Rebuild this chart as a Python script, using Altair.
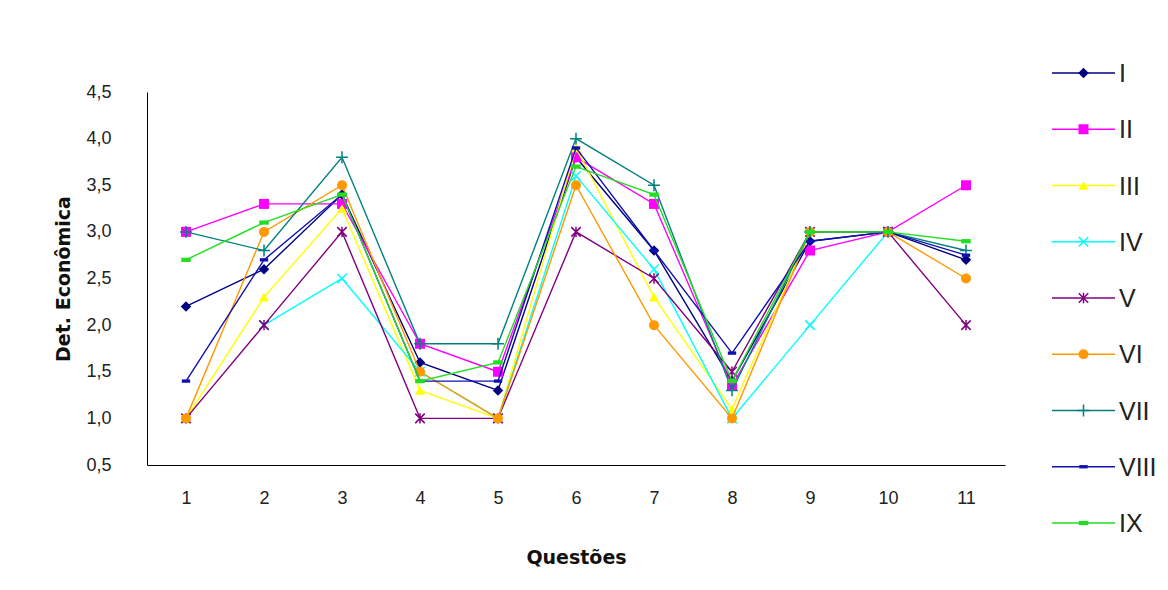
import altair as alt
import pandas as pd

questions = ["1", "2", "3", "4", "5", "6", "7", "8", "9", "10", "11"]
series_names = ["I", "II", "III", "IV", "V", "VI", "VII", "VIII", "IX"]

s_I    = [2.2, 2.6, 3.4, 1.6, 1.3, 3.8, 2.8, 1.4, 2.9, 3.0, 2.7]
s_II   = [3.0, 3.3, 3.3, 1.8, 1.5, 3.8, 3.3, 1.35, 2.8, 3.0, 3.5]
s_III  = [1.0, 2.3, 3.25, 1.3, 1.0, 3.9, 2.3, 1.1, 3.0, 3.0, None]
s_IV   = [None, 2.0, 2.5, 1.5, 1.0, 3.6, 2.6, 1.0, 2.0, 3.0, None]
s_V    = [1.0, 2.0, 3.0, 1.0, 1.0, 3.0, 2.5, 1.5, 3.0, 3.0, 2.0]
s_VI   = [1.0, 3.0, 3.5, 1.5, 1.0, 3.5, 2.0, 1.0, 3.0, 3.0, 2.5]
s_VII  = [3.0, 2.8, 3.8, 1.8, 1.8, 4.0, 3.5, 1.3, 3.0, 3.0, 2.8]
s_VIII = [1.4, 2.7, 3.4, 1.4, 1.4, 3.9, 2.8, 1.7, 2.9, 3.0, 2.75]
s_IX   = [2.7, 3.1, 3.4, 1.4, 1.6, 3.7, 3.4, 1.4, 3.0, 3.0, 2.9]

all_values = [s_I, s_II, s_III, s_IV, s_V, s_VI, s_VII, s_VIII, s_IX]

y_ticks = [0.5, 1.0, 1.5, 2.0, 2.5, 3.0, 3.5, 4.0, 4.5]

colors = ["#000080", "#FF00FF", "#FFFF00", "#00FFFF", "#800080",
          "#FF9900", "#008080", "#1010B0", "#22DD22"]

# marker styles: (shape, filled, size)
markers = [
    ("diamond", True, 110),
    ("square", True, 100),
    ("triangle-up", True, 100),
    ("M-1,-1L1,1M-1,1L1,-1", False, 90),
    ("M-1,-1L1,1M-1,1L1,-1M0,-1.1L0,1.1", False, 90),
    ("circle", True, 100),
    ("M0,-1L0,1M-1,0L1,0", False, 140),
    ("M-1,-0.4L1,-0.4L1,0.4L-1,0.4Z", True, 70),
    ("M-1,-0.45L1,-0.45L1,0.45L-1,0.45Z", True, 90),
]

FONT = "Liberation Sans"
TFONT = "DejaVu Sans"

x_enc = alt.X(
    "q:O",
    sort=questions,
    scale=alt.Scale(domain=questions, type="point", padding=0.5),
    axis=alt.Axis(
        title="Questões", titleFont=TFONT, titleFontSize=19, titleFontWeight="bold",
        titleColor="#111", titlePadding=41,
        labelFont=FONT, labelFontSize=18, labelColor="#222", labelAngle=0,
        labelPadding=24, ticks=False, domainColor="#000", domainWidth=1,
        grid=False,
    ),
)
y_enc = alt.Y(
    "v:Q",
    scale=alt.Scale(domain=[0.5, 4.5], nice=False, zero=False),
    axis=alt.Axis(
        title="Det. Econômica", titleFont=TFONT, titleFontSize=19, titleFontWeight="bold",
        titleColor="#111", titlePadding=12,
        labelFont=FONT, labelFontSize=18, labelColor="#222",
        labelPadding=36, ticks=False, values=y_ticks,
        labelExpr="replace(format(datum.value, '.1f'), '.', ',')",
        domainColor="#000", domainWidth=1, grid=False,
    ),
)

main_layers = []
for name, vals, col, (shape, filled, size) in zip(series_names, all_values, colors, markers):
    df = pd.DataFrame({"q": questions, "v": vals, "series": name}).dropna()
    line = alt.Chart(df).mark_line(color=col, strokeWidth=1.4).encode(x=x_enc, y=y_enc)
    if filled:
        pt = alt.Chart(df).mark_point(shape=shape, filled=True, color=col, size=size, opacity=1)
    else:
        pt = alt.Chart(df).mark_point(shape=shape, filled=False, color=col, size=size,
                                      strokeWidth=1.5, opacity=1)
    main_layers += [line, pt.encode(x=x_enc, y=y_enc)]

main = alt.layer(*main_layers)

# legend built from the series list
lx = alt.X("lx:Q", scale=alt.Scale(domain=[0, 1], range=[905, 968]), axis=None)
ly = alt.Y("li:Q", scale=alt.Scale(domain=[0, 8], range=[-19, 431]), axis=None)
leg_layers = []
for i, (name, col, (shape, filled, size)) in enumerate(zip(series_names, colors, markers)):
    seg = pd.DataFrame({"lx": [0.0, 1.0], "li": [i, i]})
    mid = pd.DataFrame({"lx": [0.5], "li": [i]})
    lab = pd.DataFrame({"lx": [1.0], "li": [i], "name": [name]})
    leg_layers.append(alt.Chart(seg).mark_line(color=col, strokeWidth=1.4).encode(x=lx, y=ly))
    if filled:
        leg_layers.append(alt.Chart(mid).mark_point(shape=shape, filled=True, color=col,
                                                    size=size, opacity=1).encode(x=lx, y=ly))
    else:
        leg_layers.append(alt.Chart(mid).mark_point(shape=shape, filled=False, color=col,
                                                    size=size, strokeWidth=1.5,
                                                    opacity=1).encode(x=lx, y=ly))
    leg_layers.append(alt.Chart(lab).mark_text(align="left", baseline="middle", dx=4, dy=1,
                                               font=FONT, fontSize=25, color="#222")
                      .encode(x=lx, y=ly, text="name:N"))
legend = alt.layer(*leg_layers)

chart = (
    alt.layer(main, legend)
    .resolve_scale(x="independent", y="independent")
    .properties(width=858, height=373,
                autosize=alt.AutoSizeParams(type="none"),
                padding={"left": 139, "top": 84, "right": 155, "bottom": 117},
                background="white")
    .configure_view(stroke=None)
)

chart.save("out.html", embed_options={"renderer": "svg", "actions": False})
